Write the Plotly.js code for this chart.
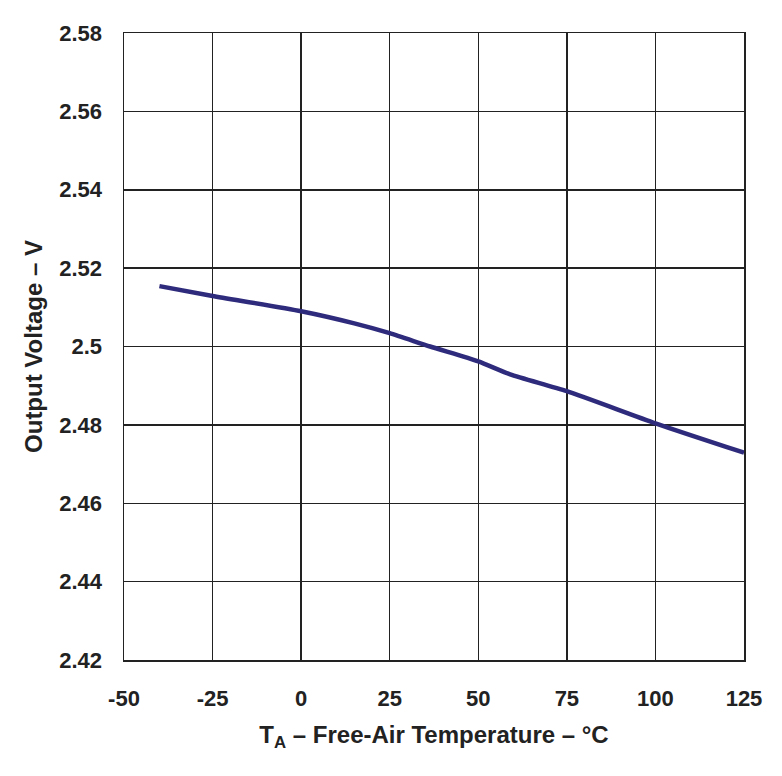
<!DOCTYPE html>
<html>
<head>
<meta charset="utf-8">
<script src="https://cdn.plot.ly/plotly-3.0.1.min.js"></script>
<style>html,body{margin:0;padding:0;background:#fff;}#chart{width:782px;height:776px;}</style>
</head>
<body>
<div id="chart"></div>
<script>
const temperature = [-40, -25, 0, 15, 25, 36.4, 50, 59, 75, 100, 125];
const outputVoltage = [2.5154, 2.5129, 2.509, 2.5059, 2.5034, 2.5, 2.4962, 2.4929, 2.4886, 2.4804, 2.4729];
const xTickVals = [-50, -25, 0, 25, 50, 75, 100, 125];
const xTickText = ['-50', '-25', '0', '25', '50', '75', '100', '125'];
const yTickVals = [2.42, 2.44, 2.46, 2.48, 2.5, 2.52, 2.54, 2.56, 2.58];
const yTickText = ['2.42', '2.44', '2.46', '2.48', '2.5', '2.52', '2.54', '2.56', '2.58'];

const fam = 'Liberation Sans, Arial, sans-serif';
const ink = '#222';

Plotly.newPlot('chart', [{
  x: temperature,
  y: outputVoltage,
  type: 'scatter',
  mode: 'lines',
  line: {color: '#2f2b7c', width: 4.5, shape: 'spline', smoothing: 0.6},
  hoverinfo: 'skip'
}], {
  width: 782, height: 776,
  margin: {l: 124, r: 38, t: 33, b: 116},
  paper_bgcolor: '#fff', plot_bgcolor: '#fff',
  showlegend: false,
  font: {family: fam, size: 22, color: ink},
  xaxis: {
    range: [-50, 125], tickvals: xTickVals, ticktext: xTickText,
    showgrid: true, gridcolor: ink, gridwidth: 1.5,
    showline: true, linecolor: ink, linewidth: 1.5, mirror: true,
    zeroline: false, ticks: '', ticklen: 0, ticklabelstandoff: 18,
    tickfont: {family: fam, size: 22, color: ink, weight: 'bold'},
    title: {text: 'T<sub>A</sub> – Free-Air Temperature – °C', standoff: 16,
      font: {family: fam, size: 24, color: ink, weight: 'bold'}}
  },
  yaxis: {
    range: [2.42, 2.58], tickvals: yTickVals, ticktext: yTickText,
    showgrid: true, gridcolor: ink, gridwidth: 1.5,
    showline: true, linecolor: ink, linewidth: 1.5, mirror: true,
    zeroline: false, ticks: '', ticklen: 0, ticklabelstandoff: 16,
    tickfont: {family: fam, size: 22, color: ink, weight: 'bold'},
    title: {text: 'Output Voltage – V', standoff: 10,
      font: {family: fam, size: 24, color: ink, weight: 'bold'}}
  }
}, {staticPlot: true});
</script>
</body>
</html>
